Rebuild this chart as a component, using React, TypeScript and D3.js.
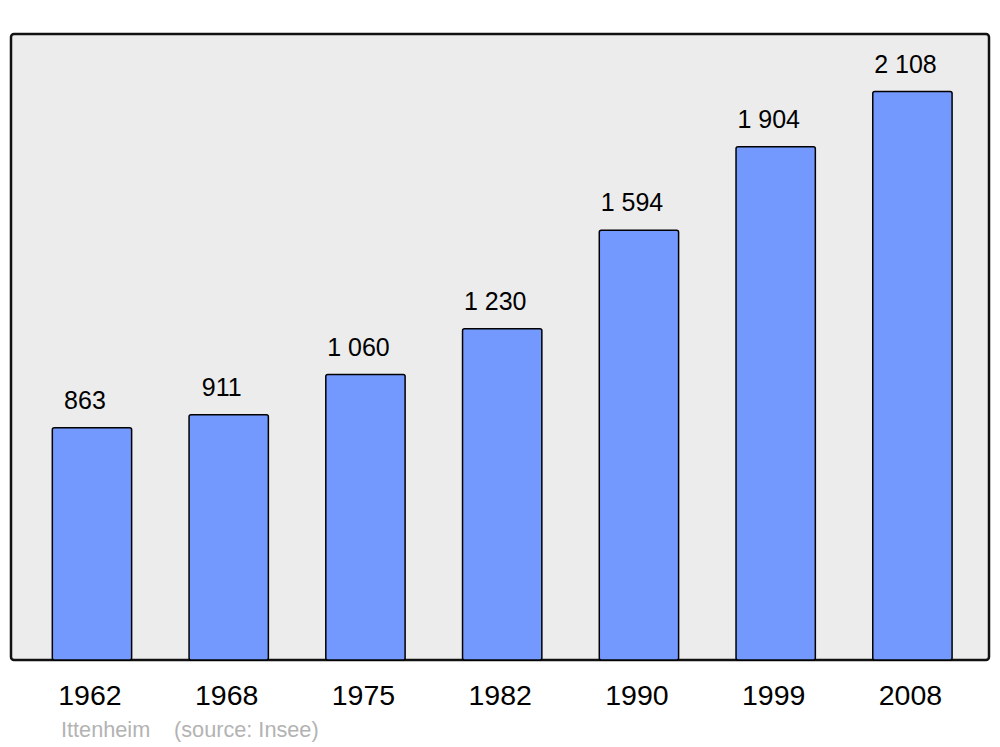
import React from "react";
import * as d3 from "d3";

const years = ["1962", "1968", "1975", "1982", "1990", "1999", "2008"];
const population = [863, 911, 1060, 1230, 1594, 1904, 2108];
const commune = "Ittenheim";
const source = "(source: Insee)";

const W = 1000;
const H = 747;
const panel = { x: 11, y: 34, w: 978, h: 626 };

const fmt = (v: number) => {
  const s = String(v);
  return s.length > 3 ? s.slice(0, s.length - 3) + " " + s.slice(-3) : s;
};

export default function App() {
  const x = d3
    .scaleBand<string>()
    .domain(years)
    .range([23.6, 980.8])
    .paddingInner(0.42)
    .paddingOuter(0.21);
  const y = d3
    .scaleLinear()
    .domain([0, 2108 * 1.1])
    .range([panel.y + panel.h, panel.y]);
  const font = "'Liberation Sans', Arial, sans-serif";
  return (
    <svg width={W} height={H} style={{ position: "absolute", left: 0, top: 0 }}>
      <rect x={0} y={0} width={W} height={H} fill="#ffffff" />
      <rect
        x={panel.x}
        y={panel.y}
        width={panel.w}
        height={panel.h}
        rx={3}
        fill="#ececec"
        stroke="#111"
        strokeWidth={2.5}
      />
      {years.map((yr, i) => {
        const v = population[i];
        const bx = x(yr)!;
        const top = y(v) + 0.7;
        return (
          <g key={yr}>
            <rect
              x={bx}
              y={top}
              width={x.bandwidth()}
              height={y(0) - top}
              rx={2}
              fill="#7399ff"
              stroke="#000"
              strokeWidth={1.5}
            />
            <text
              x={bx + x.bandwidth() / 2 - 7}
              y={top - 19}
              textAnchor="middle"
              fontFamily={font}
              fontSize={25}
              fill="#000"
            >
              {fmt(v)}
            </text>
            <text
              x={bx + x.bandwidth() / 2 - 2}
              y={705}
              textAnchor="middle"
              fontFamily={font}
              fontSize={28.5}
              fill="#000"
            >
              {yr}
            </text>
          </g>
        );
      })}
      <text x={61} y={737} fontFamily={font} fontSize={21.7} fill="#b3b3b3">
        {commune}
      </text>
      <text x={174} y={737} fontFamily={font} fontSize={21.7} fill="#b3b3b3">
        {source}
      </text>
    </svg>
  );
}
